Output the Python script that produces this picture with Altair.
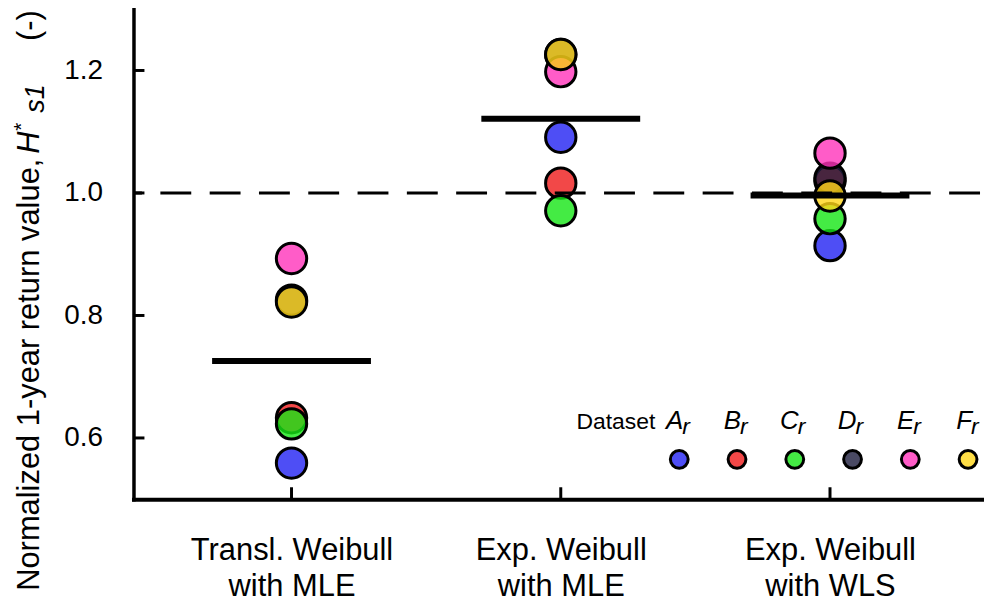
import altair as alt
import pandas as pd

methods = [["Transl. Weibull", "with MLE"], ["Exp. Weibull", "with MLE"], ["Exp. Weibull", "with WLS"]]
datasets = ["A", "B", "C", "D", "E", "F"]
colors = ["#2222f3", "#ef1a1a", "#15e615", "#1d1d3d", "#ff33ba", "#ffd618"]

vals_A = [0.559, 1.091, 0.914]
vals_B = [0.633, 1.016, 1.020]
vals_C = [0.623, 0.971, 0.958]
vals_D = [0.825, 1.226, 1.024]
vals_E = [0.893, 1.198, 1.065]
vals_F = [0.822, 1.226, 0.995]
y_ticks = [0.6, 0.8, 1.0, 1.2]

FONT = "Liberation Sans"
all_vals = [vals_A, vals_B, vals_C, vals_D, vals_E, vals_F]
rows = []
for k, (ds, vals) in enumerate(zip(datasets, all_vals)):
    for m, v in enumerate(vals):
        rows.append({"m": m + 1, "dataset": ds, "value": v, "order": k})
df = pd.DataFrame(rows)

xdom = [0.413, 3.572]
ydom = [0.5, 1.3]
xs = alt.Scale(domain=xdom, nice=False, zero=False)
ys = alt.Scale(domain=ydom, nice=False, zero=False)
fill_scale = alt.Scale(domain=datasets, range=colors)

label_expr = " : ".join(
    f"datum.value == {i + 1} ? ['{a}', '{b}']" for i, (a, b) in enumerate(methods[:-1])
) + f" : ['{methods[-1][0]}', '{methods[-1][1]}']"

base = alt.Chart(df)

points = base.mark_circle(size=930, stroke="black", strokeWidth=3, fillOpacity=0.8, strokeOpacity=1).encode(
    x=alt.X("m:Q", scale=xs, axis=alt.Axis(
        values=[1, 2, 3], labelExpr=label_expr, title=None, ticks=False, tickSize=0,
        grid=False, domainColor="black", domainWidth=4, labelFont=FONT, labelFontSize=31,
        labelColor="black", labelPadding=37, labelLineHeight=36, labelBaseline="top",
        labelLimit=500,
    )),
    y=alt.Y("value:Q", scale=ys, axis=alt.Axis(
        values=y_ticks, format=".1f", title=None, ticks=False, tickSize=0, grid=False,
        domainColor="black", domainWidth=3.5, labelFont=FONT, labelFontSize=28,
        labelColor="black", labelPadding=31,
    )),
    fill=alt.Fill("dataset:N", scale=fill_scale, legend=None),
    order=alt.Order("order:Q"),
)

dashed = alt.Chart(pd.DataFrame({"ref": [1.0]})).mark_rule(
    color="black", strokeWidth=3, strokeDash=[31, 18.5], strokeDashOffset=-4
).encode(y=alt.Y("ref:Q", scale=ys))

means = base.transform_aggregate(
    mean="mean(value)", groupby=["m"]
).transform_calculate(
    x1="datum.m - 0.295", x2="datum.m + 0.295"
).mark_rule(color="black", strokeWidth=6).encode(
    x=alt.X("x1:Q", scale=xs), x2="x2:Q", y=alt.Y("mean:Q", scale=ys)
)

xt = alt.Chart(pd.DataFrame({"t": [1, 2, 3]})).mark_rule(color="black", strokeWidth=3).encode(
    x=alt.X("t:Q", scale=xs), y=alt.value(492), y2=alt.value(480)
)
yt = alt.Chart(pd.DataFrame({"t": y_ticks})).mark_rule(color="black", strokeWidth=3).encode(
    y=alt.Y("t:Q", scale=ys), x=alt.value(0), x2=alt.value(11)
)

def seg(text, x, y, size, style="normal"):
    return alt.Chart(pd.DataFrame({"t": [text]})).mark_text(
        angle=270, align="left", baseline="alphabetic", font=FONT, fontSize=size,
        fontStyle=style, color="black"
    ).encode(text="t:N", x=alt.value(x), y=alt.value(y))

title = alt.layer(
    seg("Normalized 1-year return value,", -95, 584, 31),
    seg("H", -95, 145, 31, "italic"),
    seg("*", -106, 122, 21),
    seg("s1", -90, 104, 27, "italic"),
    seg("(-)", -95, 32, 31),
)

main = alt.layer(points, dashed, means, xt, yt, title)

leg_x = alt.X("dataset:N", scale=alt.Scale(type="point", domain=datasets, range=[548, 838], padding=0), axis=None)
leg_df = pd.DataFrame({"dataset": datasets})
leg_pts = alt.Chart(leg_df).mark_circle(size=320, stroke="black", strokeWidth=3, fillOpacity=0.8, strokeOpacity=1).encode(
    x=leg_x, y=alt.value(452), fill=alt.Fill("dataset:N", scale=fill_scale, legend=None)
)
leg_let = alt.Chart(leg_df).mark_text(
    font=FONT, fontSize=26, fontStyle="italic", align="right", baseline="alphabetic", dx=4, color="black"
).encode(x=leg_x, y=alt.value(421), text="dataset:N")
leg_sub = alt.Chart(leg_df).mark_text(
    font=FONT, fontSize=23, fontStyle="italic", align="left", baseline="alphabetic", dx=3, color="black"
).encode(x=leg_x, y=alt.value(427), text=alt.value("r"))
leg_title = alt.Chart(pd.DataFrame({"t": ["Dataset"]})).mark_text(
    font=FONT, fontSize=23, align="right", baseline="alphabetic", color="black"
).encode(x=alt.value(524), y=alt.value(421), text="t:N")
legend = alt.layer(leg_pts, leg_let, leg_sub, leg_title)

chart = alt.layer(main, legend).resolve_scale(x="independent").properties(
    width=854, height=492,
    autosize=alt.AutoSizeParams(type="none"),
    padding={"left": 126, "top": 0, "right": 0, "bottom": 105},
).configure_view(stroke=None).configure_axis(domainCap="square")

chart.save("out.html", embed_options={"renderer": "svg", "actions": False})
